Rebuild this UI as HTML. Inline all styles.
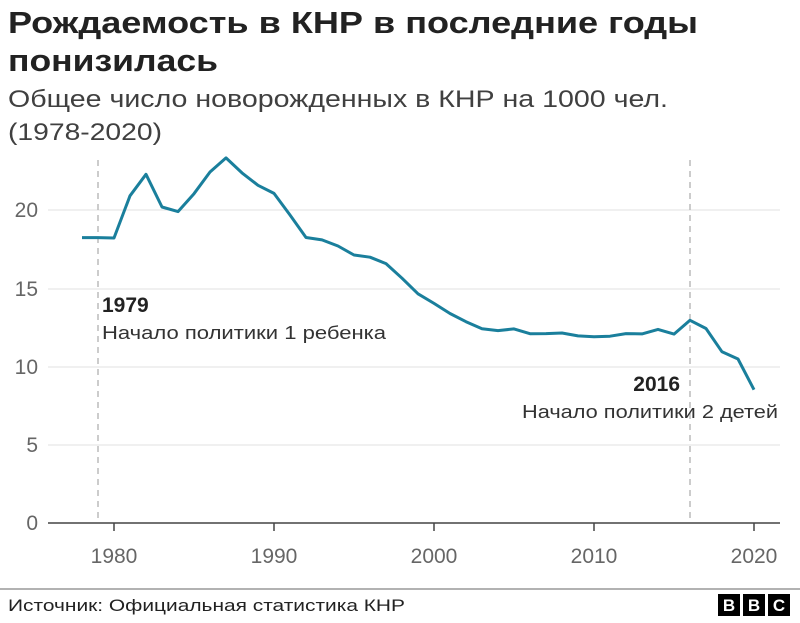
<!DOCTYPE html>
<html><head><meta charset="utf-8"><style>
body{margin:0;width:800px;height:618px;background:#fff;overflow:hidden;font-family:"Liberation Sans",sans-serif;}
</style></head><body>
<svg width="800" height="618" xmlns="http://www.w3.org/2000/svg" font-family="Liberation Sans, sans-serif">
<text x="8" y="33" font-size="31" font-weight="bold" fill="#222" textLength="690" lengthAdjust="spacingAndGlyphs">Рождаемость в КНР в последние годы</text>
<text x="8" y="71" font-size="31" font-weight="bold" fill="#222" textLength="210" lengthAdjust="spacingAndGlyphs">понизилась</text>
<text x="8" y="107" font-size="24" fill="#404040" textLength="660" lengthAdjust="spacingAndGlyphs">Общее число новорожденных в КНР на 1000 чел.</text>
<text x="8" y="140" font-size="24" fill="#404040" textLength="154" lengthAdjust="spacingAndGlyphs">(1978-2020)</text>
<g stroke="#e0e0e0" stroke-width="1">
<line x1="48" y1="445" x2="780" y2="445"/><line x1="48" y1="367" x2="780" y2="367"/>
<line x1="48" y1="289" x2="780" y2="289"/><line x1="48" y1="210" x2="780" y2="210"/>
</g>
<g font-size="21" fill="#666" text-anchor="end">
<text x="38" y="530">0</text><text x="38" y="452">5</text><text x="38" y="374">10</text><text x="38" y="296">15</text><text x="38" y="217">20</text>
</g>
<g stroke="#bbb" stroke-width="1.5" stroke-dasharray="6,5">
<line x1="98" y1="160" x2="98" y2="523"/><line x1="690" y1="160" x2="690" y2="523"/>
</g>
<line x1="48" y1="523" x2="780" y2="523" stroke="#444" stroke-width="1.5"/>
<g stroke="#444" stroke-width="1.5">
<line x1="114" y1="523" x2="114" y2="531"/><line x1="274" y1="523" x2="274" y2="531"/><line x1="434" y1="523" x2="434" y2="531"/><line x1="594" y1="523" x2="594" y2="531"/><line x1="754" y1="523" x2="754" y2="531"/>
</g>
<g font-size="21" fill="#666" text-anchor="middle">
<text x="114" y="563">1980</text><text x="274" y="563">1990</text><text x="434" y="563">2000</text><text x="594" y="563">2010</text><text x="754" y="563">2020</text>
</g>
<polyline fill="none" stroke="#1a7f9c" stroke-width="3" stroke-linejoin="round" points="82,237.6 98,237.6 114,238.0 130,195.8 146,174.3 162,207.0 178,211.6 194,193.7 210,172.0 226,157.9 242,172.9 258,185.3 274,193.4 290,215.0 306,237.5 322,239.9 338,246.0 354,255.0 370,257.2 386,263.6 402,278.2 418,293.8 434,303.4 450,313.5 466,321.7 482,328.7 498,330.6 514,328.9 530,333.7 546,333.6 562,333.0 578,335.9 594,336.7 610,336.2 626,333.6 642,333.9 658,329.4 674,334.1 690,320.3 706,328.5 722,351.8 738,359.0 754,389.7"/>
<text x="102" y="312" font-size="21" font-weight="bold" fill="#222">1979</text>
<text x="102" y="339" font-size="18" fill="#333" textLength="284" lengthAdjust="spacingAndGlyphs">Начало политики 1 ребенка</text>
<text x="680" y="391" font-size="21" font-weight="bold" fill="#222" text-anchor="end">2016</text>
<text x="522" y="418" font-size="18" fill="#333" textLength="256" lengthAdjust="spacingAndGlyphs">Начало политики 2 детей</text>
<line x1="0" y1="589" x2="800" y2="589" stroke="#666" stroke-width="1"/>
<text x="8" y="611" font-size="17" fill="#222" textLength="397" lengthAdjust="spacingAndGlyphs">Источник: Официальная статистика КНР</text>
<g font-size="17" font-weight="bold" fill="#fff" text-anchor="middle">
<rect x="718" y="594" width="22" height="22" fill="#000"/><text x="729" y="611">B</text>
<rect x="743" y="594" width="22" height="22" fill="#000"/><text x="754" y="611">B</text>
<rect x="768" y="594" width="22" height="22" fill="#000"/><text x="779" y="611">C</text>
</g>
</svg>
</body></html>
